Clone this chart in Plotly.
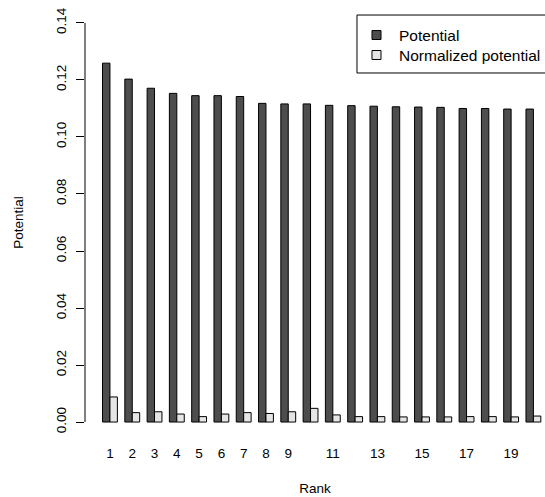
import plotly.graph_objects as go

ranks = [str(i) for i in range(1, 21)]
potential = [0.1259, 0.1203, 0.1171, 0.1153, 0.1145, 0.1145, 0.1142, 0.1118, 0.1116, 0.1116,
             0.1111, 0.1110, 0.1108, 0.1106, 0.1105, 0.1104, 0.1100, 0.1100, 0.1098, 0.1098]
normalized = [0.0088, 0.0033, 0.0036, 0.0028, 0.0019, 0.0028, 0.0033, 0.0030, 0.0036, 0.0048,
              0.0025, 0.0019, 0.0019, 0.0018, 0.0018, 0.0018, 0.0019, 0.0019, 0.0018, 0.0021]
tick_labels = ["1", "2", "3", "4", "5", "6", "7", "8", "9", "", "11", "", "13", "", "15", "", "17", "", "19", ""]
y_ticks = [0.00, 0.02, 0.04, 0.06, 0.08, 0.10, 0.12, 0.14]
series_names = ["Potential", "Normalized potential"]
series_colors = ["#4d4d4d", "#e5e5e5"]

FONT = "Liberation Sans, Arial, Helvetica, sans-serif"

fig = go.Figure()
for name, vals, col in zip(series_names, [potential, normalized], series_colors):
    fig.add_trace(go.Bar(x=ranks, y=vals, name=name, showlegend=False,
                         marker=dict(color=col, line=dict(color="black", width=1))))

# manual legend (R-style box, clipped at the right edge)
shapes = [
    dict(type="line", xref="paper", yref="y", x0=0, x1=0, y0=0, y1=0.14,
         line=dict(color="black", width=1)),
    dict(type="rect", xref="paper", yref="paper", x0=0.5913, x1=1.05, y0=0.8469, y1=0.9814,
         line=dict(color="black", width=1), fillcolor="white", layer="below"),
]
annotations = []
leg_y = [0.9350, 0.8886]
for name, col, yc in zip(series_names, series_colors, leg_y):
    shapes.append(dict(type="rect", xref="paper", yref="paper",
                       x0=0.6239, x1=0.6435, y0=yc - 0.0104, y1=yc + 0.0104,
                       line=dict(color="black", width=1), fillcolor=col))
    annotations.append(dict(xref="paper", yref="paper", x=0.6783, y=yc, text=name,
                            showarrow=False, xanchor="left", yanchor="middle",
                            font=dict(family=FONT, size=15.5, color="black")))

fig.update_layout(
    width=545, height=497,
    margin=dict(l=85, r=0, t=7, b=59),
    plot_bgcolor="white", paper_bgcolor="white",
    font=dict(family=FONT, size=13.5, color="black"),
    barmode="group", bargap=1/3, bargroupgap=0,
    showlegend=False,
    xaxis=dict(type="category", range=[-1.12, 19.52], showgrid=False, zeroline=False,
               showline=False, ticks="", tickvals=ranks, ticktext=tick_labels,
               tickangle=0, ticklabelstandoff=5,
               title=dict(text="Rank", standoff=24, font=dict(size=13.5))),
    yaxis=dict(range=[-0.0056, 0.1456], showgrid=False, zeroline=False, showline=False,
               tickvals=y_ticks, tickformat=".2f", ticks="outside", ticklen=8,
               tickcolor="black", tickangle=-90, ticklabelstandoff=5,
               title=dict(text="Potential", standoff=26, font=dict(size=13.5))),
    shapes=shapes,
    annotations=annotations,
)

fig.write_html("out.html")
